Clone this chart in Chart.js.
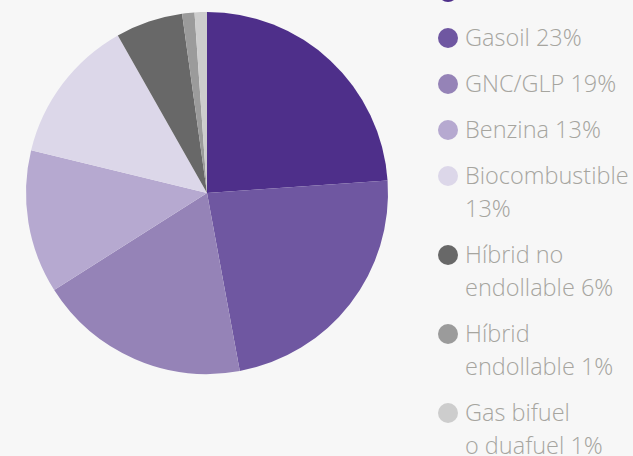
<!DOCTYPE html>
<html>
<head>
<meta charset="utf-8">
<script src="https://cdn.jsdelivr.net/npm/chart.js@4"></script>
<style>
    html, body {
        margin: 0;
        padding: 0;
        width: 633px;
        height: 456px;
        overflow: hidden;
        background: #f7f7f7;
        font-family: 'Open Sans Light', 'Open Sans', sans-serif;
    }
    #pie-wrap {
        position: absolute;
        left: 0;
        top: 0;
        width: 414px;
        height: 386px;
    }
    #legend {
        position: absolute;
        left: 438px;
        top: -25px;
        width: 200px;
        margin: 0;
        padding: 0;
        list-style: none;
    }
    #legend li {
        position: relative;
        padding-left: 27px;
        margin-bottom: 13px;
        font-size: 23.5px;
        font-weight: 300;
        line-height: 33px;
        color: #a6a59f;
        width: 170px;
    }
    #legend li span {
        position: absolute;
        left: 0;
        top: 7px;
        width: 20px;
        height: 20px;
        border-radius: 50%;
    }
</style>
</head>
<body>
<div id="pie-wrap"><canvas id="fuel-chart"></canvas></div>
<ul id="legend"></ul>

<script>
// Fuel types and their share (%)
const categories = ['Elèctric', 'Gasoil', 'GNC/GLP', 'Benzina', 'Biocombustible', 'Híbrid no endollable', 'Híbrid endollable', 'Gas bifuel o\u00a0duafuel'];
const shareLabels = ['24%', '23%', '19%', '13%', '13%', '6%', '1%', '1%'];
const shareValues = [23.9, 23.2, 18.9, 12.8, 13.0, 6.0, 1.1, 1.1];
const sliceColors = ['#4e2f8a', '#6f57a1', '#9583b7', '#b6a9d0', '#dcd7e9', '#686868', '#9b9b9b', '#cdcdcd'];

// Build legend from the same arrays
function buildLegend() {
    const legend = document.getElementById('legend');
    legend.innerHTML = categories.map((name, i) => `
        <li><span style="background: ${sliceColors[i]};"></span>${name} ${shareLabels[i]}</li>
    `).join('');
}

// Draw pie
function drawChart() {
    const ctx = document.getElementById('fuel-chart').getContext('2d');
    new Chart(ctx, {
        type: 'pie',
        data: {
            labels: categories,
            datasets: [{
                data: shareValues,
                backgroundColor: sliceColors,
                borderWidth: 0
            }]
        },
        options: {
            responsive: true,
            maintainAspectRatio: false,
            animation: false,
            layout: {
                padding: { left: 26, right: 26, top: 12, bottom: 12 }
            },
            plugins: {
                legend: { display: false },
                tooltip: { enabled: false }
            }
        }
    });
}

buildLegend();
drawChart();
</script>
</body>
</html>
